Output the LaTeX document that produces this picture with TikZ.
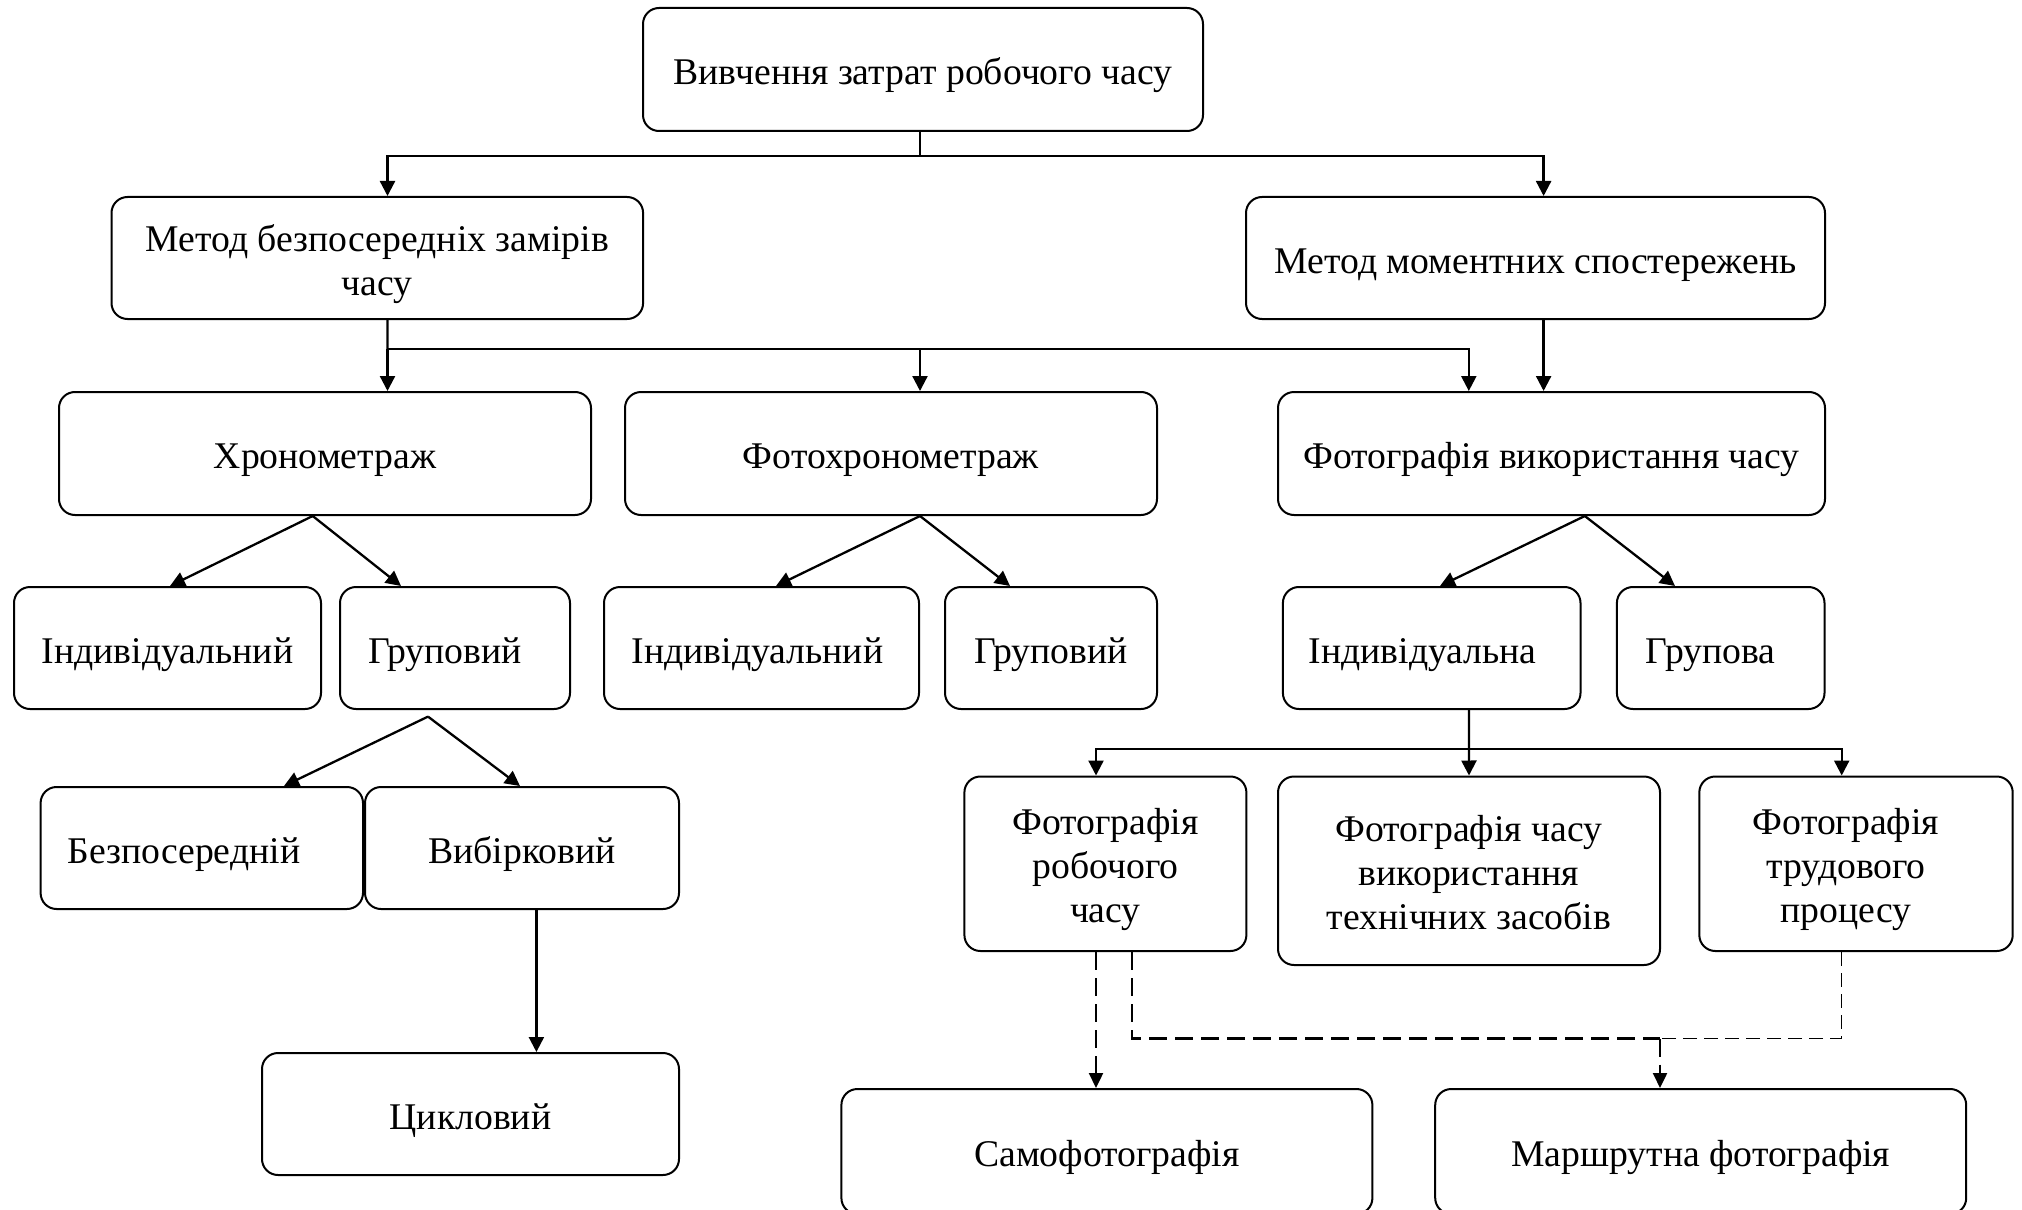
\documentclass[tikz,border=0pt]{standalone}
\usepackage{fontspec}
\setmainfont{Liberation Serif}
\usetikzlibrary{arrows.meta,calc}
\newcommand\tx[2][0pt]{\raisebox{-3.2pt}[\height][\depth]{\begin{tabular}{@{}c@{}}#2\end{tabular}}\hspace*{#1}}
\begin{document}
\begin{tikzpicture}[x=0.5pt,y=-0.5pt,
  box/.style={draw, line width=1pt, rounded corners=8pt,
    font=\fontsize{18.85}{22}\selectfont, inner sep=0pt},
  lin/.style={line width=1.15pt},
  conn/.style={line width=1.15pt, -{Triangle[length=7.5pt,width=7.5pt]}},
  dconn/.style={line width=1.15pt, dash pattern=on 9pt off 4pt, -{Triangle[length=7.5pt,width=7pt]}},
  dlin/.style={line width=1.15pt, dash pattern=on 9pt off 4pt},
  tdlin/.style={line width=0.7pt, dash pattern=on 7pt off 3.5pt}]
\useasboundingbox (0,0) rectangle (2022,1209);

% boxes
\node[box, minimum width=280pt, minimum height=61.5pt] (top) at (923,69.5) {\tx{Вивчення затрат робочого часу}};
\node[box, minimum width=265.8pt, minimum height=61pt] (mbz) at (377.3,258) {\tx{Метод безпосередніх замірів\\часу}};
\node[box, minimum width=289.5pt, minimum height=61pt] (mms) at (1535.5,258) {\tx{Метод моментних спостережень}};
\node[box, minimum width=266pt, minimum height=61.5pt] (hron) at (325,453.5) {\tx{Хронометраж}};
\node[box, minimum width=266pt, minimum height=61.5pt] (fhron) at (891,453.5) {\tx{Фотохронометраж}};
\node[box, minimum width=273.5pt, minimum height=61.5pt] (fvch) at (1551.5,453.5) {\tx{Фотографія використання часу}};
\node[box, minimum width=153.5pt, minimum height=61pt] (ind1) at (167.5,648) {\tx{Індивідуальний}};
\node[box, minimum width=115pt, minimum height=61pt] (gr1) at (455,648) {\tx[10pt]{Груповий}};
\node[box, minimum width=157.5pt, minimum height=61pt] (ind2) at (761.5,648) {\tx[4pt]{Індивідуальний}};
\node[box, minimum width=106pt, minimum height=61pt] (gr2) at (1051,648) {\tx{Груповий}};
\node[box, minimum width=148.8pt, minimum height=61pt] (inda) at (1431.7,648) {\tx[9pt]{Індивідуальна}};
\node[box, minimum width=103.8pt, minimum height=61pt] (grova) at (1720.7,648) {\tx[10pt]{Групова}};
\node[box, minimum width=161.2pt, minimum height=61pt] (bezp) at (201.8,848) {\tx[18pt]{Безпосередній}};
\node[box, minimum width=157pt, minimum height=61pt] (vyb) at (522,848) {\tx{Вибірковий}};
\node[box, minimum width=208.5pt, minimum height=61pt] (cykl) at (470.5,1114) {\tx{Цикловий}};
\node[box, minimum width=141pt, minimum height=87.25pt] (frc) at (1105.4,863.75) {\tx{Фотографія\\робочого\\часу}};
\node[box, minimum width=191pt, minimum height=94.25pt] (ftvz) at (1469,870.75) {\tx{Фотографія часу\\використання\\технічних засобів}};
\node[box, minimum width=156.7pt, minimum height=87.25pt] (ftp) at (1856,863.75) {\tx[10pt]{Фотографія\\трудового\\процесу}};
\node[box, minimum width=265.5pt, minimum height=62.5pt] (samo) at (1106.9,1151.5) {\tx{Самофотографія}};
\node[box, minimum width=265.5pt, minimum height=62.5pt] (marsh) at (1700.7,1151.5) {\tx{Маршрутна фотографія}};

% junctions
\coordinate (j1) at (920,156);
\coordinate (j2) at (387.5,349);
\coordinate (j3) at (1468.9,749.3);
\coordinate (j4) at (1660,1038.5);

% level 1
\draw[lin] ($(top.south)+(-3,0)$) -- (j1);
\draw[conn] (j1) -| ($(mbz.north)+(10.2,0)$);
\draw[conn] (j1) -| ($(mms.north)+(8.1,0)$);

% level 2
\draw[lin] ($(mbz.south)+(10.2,0)$) -- (j2);
\draw[conn] (j2) -- ($(hron.north)+(62.5,0)$);
\draw[conn] (j2) -| ($(fhron.north)+(29,0)$);
\draw[conn] (j2) -| ($(fvch.north)+(-82.7,0)$);
\draw[conn] ($(mms.south)+(8.1,0)$) -- ($(fvch.north)+(-7.9,0)$);

% diagonals
\draw[conn] ($(hron.south)+(-12.3,0)$) -- ($(ind1.north)+(2.5,0)$);
\draw[conn] ($(hron.south)+(-12.3,0)$) -- ($(gr1.north)+(-54,0)$);
\draw[conn] ($(fhron.south)+(29,0)$) -- ($(ind2.north)+(14.5,0)$);
\draw[conn] ($(fhron.south)+(29,0)$) -- ($(gr2.north)+(-41,0)$);
\draw[conn] ($(fvch.south)+(33.3,0)$) -- ($(inda.north)+(8.3,0)$);
\draw[conn] ($(fvch.south)+(33.3,0)$) -- ($(grova.north)+(-45.7,0)$);
\draw[conn] ($(gr1.south)+(-27,6.6)$) -- ($(bezp.north)+(82.2,0)$);
\draw[conn] ($(gr1.south)+(-27,6.6)$) -- ($(vyb.north)+(-2,0)$);
\draw[conn] ($(vyb.south)+(14.4,0)$) -- ($(cykl.north)+(65.9,0)$);

% inda bus
\draw[lin] ($(inda.south)+(37.2,0)$) -- (j3);
\draw[conn] (j3) -| ($(frc.north)+(-9.4,0)$);
\draw[conn] (j3) -- (ftvz.north);
\draw[conn] (j3) -| ($(ftp.north)+(-14.3,0)$);

% dashed
\draw[dconn] ($(frc.south)+(-9.4,0)$) -- ($(samo.north)+(-10.9,0)$);
\draw[tdlin] ($(ftp.south)+(-14.3,0)$) |- (j4);
\draw[dlin] ($(frc.south)+(26.4,0)$) |- (j4);
\draw[dconn] (j4) -- ($(marsh.north)+(-40.7,0)$);
\end{tikzpicture}
\end{document}
